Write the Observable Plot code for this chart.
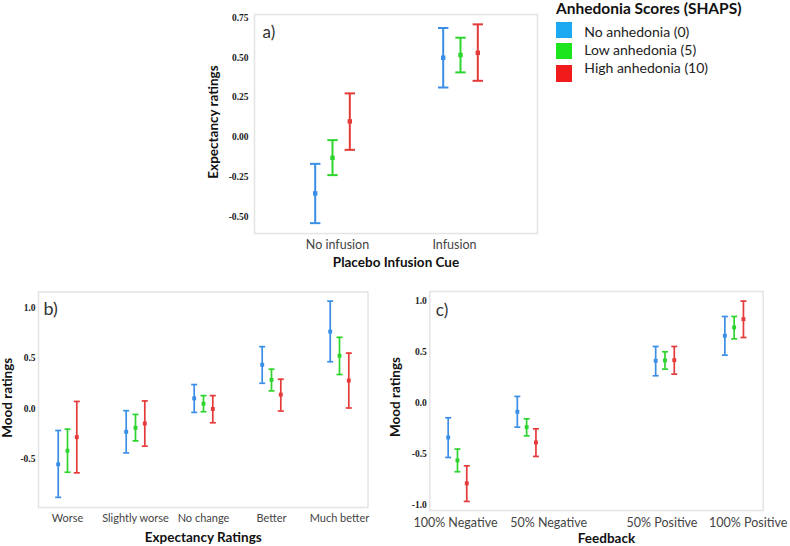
<!DOCTYPE html>
<html>
<head>
<meta charset="utf-8">
<script src="https://cdn.jsdelivr.net/npm/d3@7"></script>
<script src="https://cdn.jsdelivr.net/npm/@observablehq/plot@0.6"></script>
<style>
  body { margin: 0; background: #fff; }
  #chart { position: relative; width: 790px; height: 546px; overflow: hidden; background: #fff; font-family: Lato, "Noto Sans", sans-serif; }
  #chart > svg, #chart > div { position: absolute; }
  .lg-title { font-weight: bold; font-size: 15.5px; line-height: 15px; color: #111; white-space: nowrap; }
  .lg-text { font-size: 14px; line-height: 14px; color: #222; white-space: nowrap; }
</style>
</head>
<body>
<div id="chart"></div>
<script>
// ---------------- data ----------------
const seriesNames = ["No anhedonia (0)", "Low anhedonia (5)", "High anhedonia (10)"];
const legendTitle = "Anhedonia Scores (SHAPS)";

// Panel a: expectancy ratings by placebo infusion cue (rows = series)
const cueLabels = ["No infusion", "Infusion"];
const aMean = [[-0.354, 0.499], [-0.130, 0.516], [0.099, 0.530]];
const aLow  = [[-0.541, 0.312], [-0.239, 0.407], [-0.080, 0.354]];
const aHigh = [[-0.168, 0.686], [-0.019, 0.625], [0.275, 0.709]];
const aYTicks = [-0.5, -0.25, 0, 0.25, 0.5, 0.75];

// Panel b: mood ratings by expectancy ratings
const expectLabels = ["Worse", "Slightly worse", "No change", "Better", "Much better"];
const bMean = [[-0.553, -0.230, 0.103, 0.437, 0.767], [-0.418, -0.190, 0.050, 0.287, 0.527], [-0.283, -0.147, -0.003, 0.140, 0.280]];
const bLow  = [[-0.882, -0.440, -0.037, 0.253, 0.467], [-0.632, -0.320, -0.030, 0.177, 0.340], [-0.638, -0.373, -0.140, -0.023, 0.007]];
const bHigh = [[-0.217, -0.020, 0.240, 0.617, 1.070], [-0.204, -0.057, 0.130, 0.393, 0.710], [0.072, 0.077, 0.130, 0.293, 0.553]];
const bYTicks = [-0.5, 0, 0.5, 1.0];

// Panel c: mood ratings by feedback
const feedbackValues = [-100, -50, 50, 100];
const feedbackLabels = ["100% Negative", "50% Negative", "50% Positive", "100% Positive"];
const cMean = [[-0.340, -0.088, 0.412, 0.657], [-0.565, -0.239, 0.415, 0.739], [-0.790, -0.389, 0.418, 0.820]];
const cLow  = [[-0.536, -0.239, 0.265, 0.467], [-0.676, -0.324, 0.330, 0.627], [-0.967, -0.526, 0.281, 0.640]];
const cHigh = [[-0.147, 0.062, 0.552, 0.846], [-0.454, -0.157, 0.500, 0.846], [-0.618, -0.255, 0.552, 0.997]];
const cYTicks = [-1, -0.5, 0, 0.5, 1];

// ---------------- styles ----------------
const barColors = ["#3a8ee6", "#2ed42e", "#e53a3a"];
const swatchColors = ["#1ba9f2", "#1de51d", "#f21b1b"];
const frameColor = "#e4e4e4";
const sans = "Lato, 'Noto Sans', sans-serif";
const serif = "'Liberation Serif', 'DejaVu Serif', serif";
const cLabelShift = [-2, 22, -3, 14];   // horizontal nudges of the panel-c tick labels (px)
const aLabelShift = [5, -6];

const capSymbol = {
  draw(ctx, size) {
    const w = Math.sqrt(size / Math.PI);
    ctx.moveTo(-w, 0);
    ctx.lineTo(w, 0);
  }
};

function buildRows(cats, mean, low, high) {
  const rows = [];
  seriesNames.forEach((s, k) => cats.forEach((c, i) =>
    rows.push({series: s, k, cat: c, mean: mean[k][i], low: low[k][i], high: high[k][i]})));
  return rows;
}

function errorMarks(rows, {offset, lineWidth, capR, pointR}) {
  const marks = [];
  seriesNames.forEach((s, k) => {
    const d = rows.filter(r => r.k === k);
    const dx = (k - 1) * offset;
    marks.push(Plot.ruleX(d, {x: "cat", y1: "low", y2: "high", stroke: "series", strokeWidth: lineWidth, dx}));
    marks.push(Plot.dot(d, {x: "cat", y: "low", symbol: capSymbol, r: capR, stroke: "series", fill: "none", strokeWidth: lineWidth, dx}));
    marks.push(Plot.dot(d, {x: "cat", y: "high", symbol: capSymbol, r: capR, stroke: "series", fill: "none", strokeWidth: lineWidth, dx}));
    marks.push(Plot.dot(d, {x: "cat", y: "mean", symbol: "square", r: pointR, fill: "series", stroke: "none", dx}));
  });
  return marks;
}

function xTickAxes(values, format, shifts, opts) {
  return values.map((v, i) => Plot.axisX({ticks: [v], tickFormat: format, tickSize: 0, dx: shifts[i],
    fontFamily: sans, color: "#444", label: null, ...opts}));
}

function yTitle(label, dx, dy) {
  return Plot.text([label], {text: d => d, frameAnchor: "left", rotate: -90, textAnchor: "middle", lineAnchor: "middle",
    dx, dy, fontFamily: sans, fontWeight: "bold", fontSize: 13.5, fill: "#111"});
}
function xTitle(label, dx, dy) {
  return Plot.text([label], {text: d => d, frameAnchor: "bottom", textAnchor: "middle", lineAnchor: "top",
    dx, dy, fontFamily: sans, fontWeight: "bold", fontSize: 13.5, fill: "#111"});
}
function panelLabel(label, dx, dy, size) {
  return Plot.text([label], {text: d => d, frameAnchor: "top-left", textAnchor: "start", lineAnchor: "middle",
    dx, dy, fontFamily: sans, fontSize: size, fill: "#333"});
}

const colorScale = {domain: seriesNames, range: barColors};
const chart = document.getElementById("chart");

// ---------------- panel a ----------------
const plotA = Plot.plot({
  width: 355, height: 275,
  marginLeft: 64, marginTop: 14, marginRight: 8, marginBottom: 42,
  x: {type: "point", domain: cueLabels, padding: 0.6},
  y: {domain: [-0.606, 0.771]},
  color: colorScale,
  style: {background: "transparent", overflow: "visible", fontFamily: sans},
  marks: [
    Plot.frame({stroke: frameColor, strokeWidth: 1.5}),
    Plot.axisY({ticks: aYTicks, tickFormat: d => d.toFixed(2), tickSize: 0, tickPadding: 6,
      fontFamily: serif, fontSize: 9.5, fontWeight: "bold", color: "#222", label: null}),
    ...xTickAxes(cueLabels, d => d, aLabelShift, {tickPadding: 7, fontSize: 12.5}),
    ...errorMarks(buildRows(cueLabels, aMean, aLow, aHigh), {offset: 17.3, lineWidth: 2, capR: 5.2, pointR: 2.5}),
    panelLabel("a)", 8, 18, 17),
    xTitle("Placebo Infusion Cue", 0, 24),
    yTitle("Expectancy ratings", -41, -2)
  ]
});
plotA.style.left = "190px"; plotA.style.top = "0px";
chart.appendChild(plotA);

// ---------------- panel b ----------------
const plotB = Plot.plot({
  width: 380, height: 261,
  marginLeft: 38, marginTop: 6.5, marginRight: 12.5, marginBottom: 39,
  x: {type: "point", domain: expectLabels, padding: 0.42},
  y: {domain: [-0.983, 1.161]},
  color: colorScale,
  style: {background: "transparent", overflow: "visible", fontFamily: sans},
  marks: [
    Plot.frame({stroke: frameColor, strokeWidth: 1.5}),
    Plot.axisY({ticks: bYTicks, tickFormat: d => d.toFixed(1), tickSize: 0, tickPadding: 3,
      fontFamily: serif, fontSize: 9.5, fontWeight: "bold", color: "#222", label: null}),
    Plot.axisX({tickSize: 0, tickPadding: 7, fontFamily: sans, fontSize: 11, color: "#444", label: null}),
    ...errorMarks(buildRows(expectLabels, bMean, bLow, bHigh), {offset: 9.3, lineWidth: 1.7, capR: 3, pointR: 2.2}),
    panelLabel("b)", 5, 17, 18),
    xTitle("Expectancy Ratings", 0, 24.5),
    yTitle("Mood ratings", -31, -2)
  ]
});
plotB.style.left = "0px"; plotB.style.top = "285px";
chart.appendChild(plotB);

// ---------------- panel c ----------------
const plotC = Plot.plot({
  width: 410, height: 261,
  marginLeft: 49.3, marginTop: 6, marginRight: 27.3, marginBottom: 36,
  x: {domain: [-120, 121]},
  y: {domain: [-1.056, 1.091]},
  color: colorScale,
  style: {background: "transparent", overflow: "visible", fontFamily: sans},
  marks: [
    Plot.frame({stroke: frameColor, strokeWidth: 1.5}),
    Plot.axisY({ticks: cYTicks, tickFormat: d => d.toFixed(1), tickSize: 0, tickPadding: 3,
      fontFamily: serif, fontSize: 9.5, fontWeight: "bold", color: "#222", label: null}),
    ...xTickAxes(feedbackValues, d => feedbackLabels[feedbackValues.indexOf(d)], cLabelShift, {tickPadding: 8, fontSize: 12.5}),
    ...errorMarks(buildRows(feedbackValues, cMean, cLow, cHigh), {offset: 9.3, lineWidth: 1.7, capR: 3, pointR: 2.2}),
    panelLabel("c)", 6, 19, 17),
    xTitle("Feedback", 10, 23),
    yTitle("Mood ratings", -34, -4)
  ]
});
plotC.style.left = "380px"; plotC.style.top = "285px";
chart.appendChild(plotC);

// ---------------- legend ----------------
function addDiv(cls, text, left, top, extra) {
  const el = document.createElement("div");
  if (cls) el.className = cls;
  if (text != null) el.textContent = text;
  el.style.left = left + "px";
  el.style.top = top + "px";
  Object.assign(el.style, extra || {});
  chart.appendChild(el);
  return el;
}
addDiv("lg-title", legendTitle, 556, 1);
const swatchTops = [21.7, 42.7, 65];
const textTops = [24.5, 42.8, 60.5];
seriesNames.forEach((s, k) => {
  addDiv(null, null, 556, swatchTops[k], {width: "15.7px", height: "16.6px", background: swatchColors[k]});
  addDiv("lg-text", s, 584.3, textTops[k]);
});
</script>
</body>
</html>
